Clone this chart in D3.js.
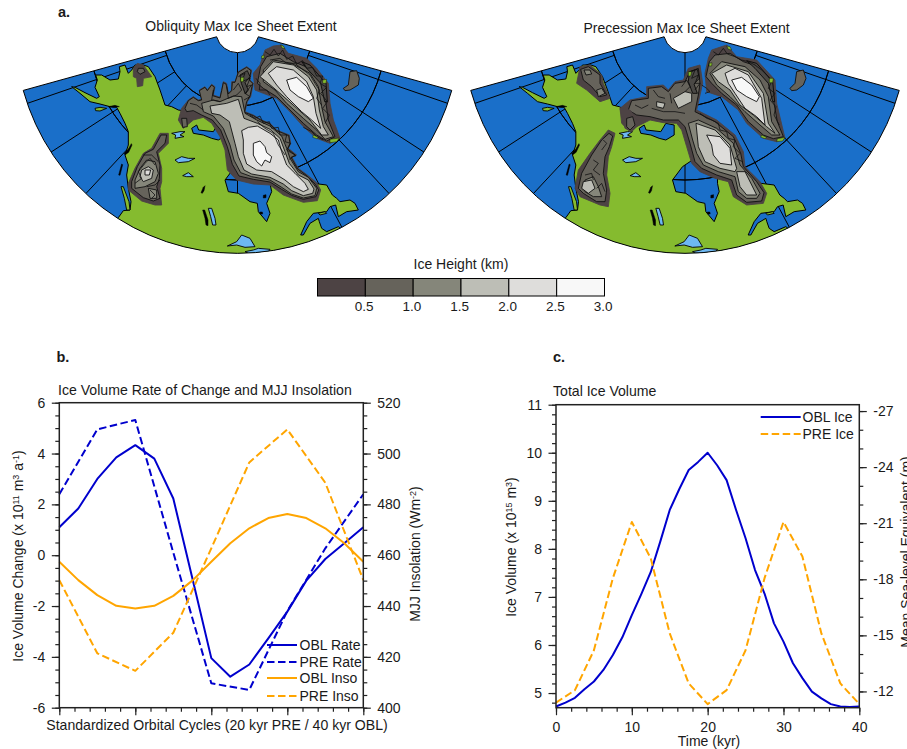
<!DOCTYPE html>
<html>
<head>
<meta charset="utf-8">
<script src="https://cdn.jsdelivr.net/npm/d3@7"></script>
<style>
  html, body { margin: 0; padding: 0; background: #fff; overflow: hidden; }
  svg { display: block; }
  text { font-family: "Liberation Sans", Arial, sans-serif; fill: #1a1a1a; }
</style>
</head>
<body>
<svg id="fig" width="907" height="749"></svg>
<script>
// ---------------------------------------------------------------------------
// line chart data
// ---------------------------------------------------------------------------
const cycleFine = d3.range(0, 40.1, 2.5);
const cycleCoarse = d3.range(0, 40.1, 5);
const oblRate = [1.1, 1.84, 3.0, 3.85, 4.33, 3.8, 2.23, -0.9, -4.05, -4.78, -4.3, -3.27, -2.22, -1.0, -0.15, 0.47, 1.1];
const preRate = [2.4, 4.95, 5.32, 0.1, -5.04, -5.3, -2.2, 0.27, 2.4];
const oblInso = [457.4, 450.2, 444.3, 440.1, 439, 440.1, 444, 450, 457.4, 464.7, 470.6, 474.6, 476.2, 474.6, 470.6, 464.7, 457.4];
const preInso = [450.2, 421.4, 414.5, 429.5, 462.7, 496.5, 509.5, 488.5, 450.2];
const oblIceTime = d3.range(0, 40.1, 1.25);
const preIceTime = d3.range(0, 40.1, 2.5);
const oblIce = [4.72, 4.8, 4.9, 5.08, 5.24, 5.48, 5.79, 6.16, 6.62, 7.06, 7.52, 8.15, 8.81, 9.24, 9.64, 9.81, 10.0, 9.74, 9.43, 8.81, 8.22, 7.56, 7.07, 6.45, 6.07, 5.62, 5.31, 5.03, 4.89, 4.77, 4.72, 4.71, 4.72];
const preIce = [4.8, 5.06, 5.89, 7.39, 8.56, 7.8, 6.24, 5.2, 4.77, 5.06, 5.89, 7.39, 8.56, 7.84, 6.24, 5.2, 4.77];

const iceLevels = [0.5, 1.0, 1.5, 2.0, 2.5];
const iceColors = ['#4d4344', '#66635b', '#85867a', '#bdbeb6', '#dedddb', '#f8f8f8'];
const barTicks = [0.5, 1.0, 1.5, 2.0, 2.5, 3.0];

// ---------------------------------------------------------------------------
// map outlines, traced in map units (1 unit = 1/3 px) from crops of the figure
// ---------------------------------------------------------------------------
const traced = (dx, dy, pts) => pts.map(p => [p[0] + dx, p[1] + dy]);

const meridianAngles = [-71, -57, -43, -28, 28, 43, 57, 71];
const parallelRadii = [225, 447];

const landCoast = [[355,653],[370,632],[390,630],[393,605],[385,565],[380,525],[385,495],[375,465],[385,435],[385,395],[375,370],[360,340],[350,322],[330,320],[300,312],[270,305],[240,280],[215,260],[225,262],[255,278],[290,295],[298,290],[285,262],[292,240],[287,225],[305,225],[330,240],[355,237],[360,215],[358,200],[375,195],[385,220],[395,210],[405,195],[430,195],[445,200],[465,230],[480,270],[495,315],[515,320],[535,330],[640,345],[740,350],[735,480],[705,500],[675,540],[685,575],[715,580],[750,605],[772,610],[775,635],[800,665],[810,640],[800,610],[815,575],[810,550],[810,535],[860,530],[900,530],[940,550],[980,555],[997,585],[1010,595],[1020,605],[1050,600],[1065,610],[1075,630],[1040,635],[1015,650],[1007,615],[990,620],[980,635],[940,640],[920,665],[902,705],[910,705],[930,670],[955,655],[958,665],[965,685],[980,695],[1015,680],[1040,700],[1040,800],[300,800],[300,700]];
const arcticBay = [[575,385],[590,375],[596,390],[640,395],[655,370],[680,375],[680,405],[655,420],[635,415],[610,405],[580,400]];
const islands = [
  traced(180, 165, [[183,395],[190,395],[207,440],[210,465],[200,465],[193,430]]),
  [[285,325],[300,322],[320,325],[300,333],[287,332]],
  traced(510, 510, [[445,130],[465,125],[470,130],[450,135]])
];
const blackSlivers = [
  traced(180, 165, [[192,296],[205,282],[214,266],[216,270],[206,292],[196,299]]),
  traced(180, 165, [[176,360],[185,327],[188,329],[180,361]]),
  traced(510, 510, [[98,120],[104,120],[114,150],[114,167],[108,165],[105,145]]),
  traced(510, 510, [[93,68],[100,52],[105,47],[102,62],[97,70]]),
  traced(180, 165, [[145,155],[165,151],[178,155],[160,157]]),
  traced(510, 510, [[280,76],[288,74],[288,83],[280,84]]),
  traced(510, 510, [[269,126],[277,126],[278,132],[270,132]])
];
const lakes = [
  [[515,400],[540,395],[555,395],[540,405],[552,410],[525,415],[527,405]],
  [[525,480],[545,470],[565,475],[585,475],[565,485],[535,488]],
  [[548,527],[565,518],[580,530],[560,530]],
  traced(510, 510, [[115,115],[125,115],[135,145],[138,165],[128,165],[122,140]]),
  traced(510, 510, [[172,228],[200,215],[215,195],[240,205],[255,230],[225,232],[200,225]]),
  traced(510, 510, [[225,245],[250,240],[265,235],[300,238],[295,245],[260,250],[235,250]])
];

// ice: [height, outline] painted in order
const oblIceBands = [
  [0.25, traced(510, 120, [[25,240],[40,265],[70,240],[100,232],[125,250],[150,290],[165,330],[172,390],[200,420],[250,432],[300,435],[340,465],[400,487],[442,482],[452,450],[440,428],[412,405],[385,385],[365,350],[380,345],[355,325],[362,310],[358,285],[340,278],[320,270],[300,250],[275,240],[250,225],[225,215],[232,185],[242,170],[250,130],[240,120],[245,90],[230,80],[205,95],[195,125],[185,125],[185,150],[175,160],[170,130],[160,125],[155,150],[150,172],[130,165],[135,140],[125,133],[112,150],[105,140],[88,150],[95,178],[85,180],[70,170],[55,180],[35,205]])],
  [0.75, traced(510, 120, [[45,205],[55,182],[70,172],[85,182],[95,180],[88,152],[105,142],[112,152],[125,135],[133,142],[128,167],[150,174],[155,152],[160,128],[168,132],[175,162],[185,152],[187,127],[195,127],[205,97],[230,82],[243,92],[238,120],[248,130],[240,168],[230,185],[223,217],[250,227],[275,242],[300,252],[320,272],[340,280],[356,287],[360,310],[353,327],[378,347],[363,352],[383,387],[410,407],[435,432],[446,450],[438,470],[400,478],[365,466],[335,448],[300,426],[250,418],[207,408],[187,373],[172,320],[152,270],[127,240],[95,225],[70,212],[50,215]])],
  [1.25, traced(510, 120, [[95,190],[130,180],[150,185],[190,168],[215,170],[225,220],[260,240],[300,258],[335,288],[350,325],[360,355],[385,395],[415,412],[440,445],[435,467],[400,474],[365,462],[335,442],[300,420],[245,410],[212,398],[192,360],[180,315],[160,265],[130,228],[100,215]])],
  [1.75, traced(510, 120, [[120,198],[170,190],[205,178],[222,235],[262,250],[300,268],[330,295],[345,335],[358,370],[385,405],[415,420],[432,447],[428,460],[400,467],[365,452],[340,432],[300,412],[245,402],[222,390],[205,350],[195,310],[178,245],[150,225],[125,220]])],
  [2.25, traced(510, 120, [[215,272],[235,262],[262,258],[300,280],[325,300],[335,335],[350,375],[375,400],[405,430],[415,448],[400,455],[370,440],[345,420],[305,395],[260,390],[230,372],[220,340],[220,300]])],
  [2.75, traced(510, 120, [[250,310],[270,303],[285,320],[290,338],[305,350],[300,368],[285,360],[275,378],[260,365],[250,345]])],
  // Cordilleran
  [0.25, traced(180, 165, [[300,235],[325,235],[325,265],[295,295],[305,340],[305,380],[300,400],[305,450],[285,450],[245,438],[205,405],[205,385],[225,340],[250,295],[275,280]])],
  [0.75, traced(180, 165, [[303,240],[320,240],[315,265],[290,290],[300,330],[298,370],[290,395],[300,430],[280,438],[250,428],[215,400],[215,380],[232,335],[255,295],[280,283]])],
  [1.25, traced(180, 165, [[240,340],[260,315],[285,320],[295,355],[285,380],[255,395],[225,400],[225,375]])],
  [1.75, traced(180, 165, [[245,345],[265,335],[280,345],[275,370],[250,380],[240,365]])],
  [2.25, traced(180, 165, [[255,345],[272,345],[268,360],[255,360]])],
  [1.25, traced(180, 165, [[265,400],[290,405],[290,430],[270,430]])],
  // Alaska
  [0.25, traced(180, 165, [[220,40],[232,25],[250,30],[275,65],[250,70],[248,92],[232,95],[230,70],[220,65]])],
  [0.75, traced(180, 165, [[235,40],[250,40],[255,50],[240,58],[232,50]])],
  [0.75, [[545,355],[560,355],[562,380],[548,382]]],
  // Greenland
  [0.25, traced(510, 120, [[270,75],[285,30],[310,18],[335,15],[355,40],[410,55],[440,85],[475,130],[480,190],[490,240],[510,295],[480,310],[440,295],[400,260],[360,215],[320,175],[280,160],[255,150],[250,100]])],
  [0.75, traced(510, 120, [[272,80],[290,50],[330,40],[370,65],[420,85],[455,130],[468,190],[475,240],[495,290],[470,303],[440,285],[400,250],[355,205],[320,170],[280,145],[262,130]])],
  [1.25, traced(510, 120, [[280,90],[310,60],[365,70],[420,100],[445,140],[455,200],[465,245],[490,290],[465,298],[440,270],[400,235],[350,190],[315,150],[280,125]])],
  [1.75, traced(510, 120, [[270,110],[310,65],[370,75],[415,110],[440,150],[448,210],[460,260],[475,285],[455,285],[420,240],[375,200],[330,160],[295,130]])],
  [2.25, traced(510, 120, [[295,100],[320,80],[370,90],[410,125],[430,170],[438,220],[452,265],[425,240],[395,215],[350,170],[320,135]])],
  [2.75, traced(510, 120, [[350,120],[380,112],[410,140],[430,175],[415,185],[385,170],[360,150]])],
  // Iceland
  [0.75, [[1030,265],[1045,255],[1050,215],[1070,212],[1078,235],[1075,255],[1050,270],[1035,272]]]
];
const oblRims = [
  traced(510, 120, [[210,105],[232,92],[240,110],[225,128],[235,150],[226,162],[214,130]]),
  traced(510, 120, [[395,65],[420,75],[468,130],[472,185],[464,185],[452,130],[410,85]])
];
const oblTangles = [
  traced(510, 120, [[285,35],[300,45],[312,28],[325,48],[338,30],[350,58],[368,48],[380,72],[398,62],[410,85],[428,82],[440,108],[458,108],[450,130],[470,142],[452,160],[472,185],[458,205],[478,225],[465,250]]),
  traced(510, 120, [[300,60],[330,55],[350,70],[375,70],[400,90],[420,105],[435,130],[448,150],[440,175],[455,195]]),
  traced(510, 120, [[205,110],[225,100],[215,125],[240,115],[230,140],[245,135],[225,160],[240,170],[222,180]]),
  traced(510, 120, [[190,150],[205,130],[215,150],[200,165]]),
  traced(510, 120, [[240,225],[255,235],[270,228],[280,250],[298,245],[305,265],[325,262],[330,285],[350,285],[345,305],[362,310],[350,330],[375,345],[358,358]]),
  traced(510, 120, [[262,245],[285,265],[310,280],[325,315],[345,345]]),
  traced(510, 120, [[60,190],[80,195],[100,210]]),
  traced(510, 120, [[130,150],[125,180],[150,185]]),
  traced(510, 120, [[170,140],[175,175],[200,165]]),
  traced(510, 120, [[258,115],[270,130],[268,150],[290,150],[300,165]]),
  traced(510, 120, [[400,262],[425,275],[440,290],[460,300]]),
  traced(180, 165, [[225,385],[245,370],[235,350],[255,325],[270,310],[285,330]]),
  traced(180, 165, [[250,300],[275,300],[295,320]]),
  traced(180, 165, [[260,395],[285,390],[300,375]]),
  traced(180, 165, [[270,405],[285,420],[275,430]])
];

const preIceBands = [
  [0.25, traced(510, 120, [[0,205],[30,180],[80,170],[80,140],[130,135],[145,150],[165,125],[190,120],[205,85],[240,75],[248,130],[240,165],[230,210],[290,240],[345,285],[370,335],[375,380],[420,425],[440,460],[430,490],[380,495],[340,470],[325,425],[285,415],[240,395],[215,370],[200,320],[185,270],[170,250],[130,248],[90,240],[50,260],[30,275],[5,250]])],
  [0.75, traced(510, 120, [[25,210],[35,182],[85,175],[85,145],[125,140],[145,155],[165,130],[195,125],[210,95],[235,85],[240,130],[235,165],[225,215],[285,245],[340,290],[362,340],[370,380],[410,425],[432,458],[425,483],[380,487],[350,465],[335,420],[290,405],[245,385],[225,365],[210,310],[195,260],[175,240],[130,240],[90,230],[50,225]])],
  [1.25, traced(510, 120, [[205,250],[235,240],[290,265],[340,310],[360,375],[395,415],[420,460],[410,475],[380,475],[355,455],[345,410],[295,395],[250,375],[230,340],[218,300]])],
  [1.75, traced(510, 120, [[228,250],[285,270],[330,315],[350,385],[345,395],[300,385],[255,365],[235,320]])],
  [1.75, traced(510, 120, [[350,395],[375,395],[410,465],[380,465],[360,440]])],
  [2.25, traced(510, 120, [[260,285],[300,290],[330,325],[335,375],[300,370],[280,345],[275,315]])],
  [1.75, traced(510, 120, [[160,175],[195,155],[215,160],[215,185],[175,205]])],
  [1.75, traced(510, 120, [[110,185],[135,190],[130,205],[110,200]])],
  [0.25, traced(330, 180, [[145,210],[165,220],[155,260],[145,290],[140,345],[150,400],[145,440],[120,435],[60,410],[45,385],[55,330],[90,280],[120,240]])],
  [0.75, traced(330, 180, [[147,220],[158,228],[148,260],[135,290],[130,340],[140,390],[135,425],[110,425],[70,400],[55,385],[65,340],[95,285],[125,240]])],
  [1.25, traced(330, 180, [[75,360],[100,350],[115,380],[125,410],[100,410],[75,395]])],
  [1.75, traced(330, 180, [[70,365],[95,360],[105,385],[85,400],[65,385]])],
  [0.25, traced(330, 180, [[60,20],[90,15],[125,45],[130,70],[150,115],[120,125],[80,90],[50,70]])],
  [0.75, traced(330, 180, [[62,28],[85,20],[120,45],[120,70],[140,105],[120,110],[95,80],[70,60]])],
  [1.25, traced(330, 180, [[72,30],[90,30],[95,42],[78,45]])],
  [1.25, traced(330, 180, [[110,90],[125,85],[135,100],[115,110]])],
  [0.25, traced(330, 180, [[180,145],[210,150],[225,170],[240,190],[215,215],[195,205]])],
  [0.75, traced(330, 180, [[200,175],[218,170],[225,195],[210,210],[200,200]])],
  [0.25, traced(510, 120, [[265,55],[275,30],[320,15],[350,50],[410,60],[465,120],[470,190],[495,295],[470,305],[430,295],[380,250],[355,210],[305,170],[260,155],[255,100]])],
  [0.75, traced(510, 120, [[268,65],[285,45],[330,40],[370,65],[415,80],[455,130],[462,190],[472,245],[490,290],[460,296],[430,285],[385,245],[350,195],[305,160],[275,130],[258,110]])],
  [1.25, traced(510, 120, [[270,100],[305,65],[375,80],[420,120],[445,170],[455,245],[480,285],[455,285],[420,255],[375,215],[330,170],[290,135]])],
  [1.75, traced(510, 120, [[275,100],[320,75],[385,95],[430,160],[445,250],[465,280],[440,260],[400,225],[360,195],[330,150],[295,125]])],
  [2.25, traced(510, 120, [[315,100],[345,85],[385,105],[425,175],[435,255],[410,230],[375,205],[345,160],[325,130]])],
  [2.75, traced(510, 120, [[335,120],[365,112],[395,135],[418,170],[410,185],[380,170],[350,150]])],
  [0.75, [[1020,265],[1035,250],[1040,215],[1060,210],[1068,235],[1060,255],[1040,270],[1025,272]]]
];
const preRims = [
  traced(510, 120, [[208,95],[232,88],[238,115],[222,132],[232,160],[218,160],[205,125]]),
  traced(510, 120, [[380,62],[410,70],[458,125],[464,185],[458,185],[445,130],[405,85]])
];
const preTangles = [
  traced(510, 120, [[280,35],[295,45],[310,25],[322,42],[345,50],[365,60],[385,65],[405,75],[425,90],[445,110],[455,125],[445,145],[465,160],[450,180],[468,200],[462,225],[478,255]]),
  traced(510, 120, [[205,100],[225,90],[215,115],[235,105],[225,130],[240,130],[225,150]]),
  traced(510, 120, [[185,140],[200,120],[210,140],[195,155]]),
  traced(510, 120, [[240,220],[260,235],[275,240],[295,250],[300,270],[320,275],[325,295],[345,300],[340,320],[360,340],[345,355],[368,365]]),
  traced(510, 120, [[45,195],[65,205],[85,195]]),
  traced(510, 120, [[100,150],[115,170],[135,175]]),
  traced(510, 120, [[150,160],[155,190]]),
  traced(510, 120, [[95,205],[130,215],[165,215],[195,220]]),
  traced(510, 120, [[245,135],[260,145],[270,155],[255,160]]),
  traced(330, 180, [[100,300],[115,310],[100,330],[120,345]]),
  traced(330, 180, [[75,345],[95,340],[100,360]]),
  traced(330, 180, [[110,385],[125,370],[135,395]]),
  traced(330, 180, [[130,240],[140,250],[125,270]])
];
const oblGreen = [
  traced(510, 120, [[480,298],[508,294],[500,305],[480,308]]),
  traced(510, 120, [[430,285],[445,292],[440,296],[428,292]]),
  traced(510, 120, [[458,120],[470,118],[468,130],[458,130]]),
  traced(510, 120, [[212,112],[222,112],[220,125],[212,125]]),
  traced(510, 120, [[275,48],[283,45],[282,55],[274,55]]),
  traced(510, 120, [[332,15],[340,18],[345,26],[336,24]])
];
const preGreen = [
  traced(510, 120, [[472,296],[495,292],[488,303],[470,305]]),
  traced(510, 120, [[425,285],[440,292],[435,296],[422,292]]),
  traced(510, 120, [[448,115],[460,115],[458,128],[448,128]]),
  traced(510, 120, [[205,95],[215,95],[212,108],[205,108]]),
  traced(510, 120, [[268,70],[276,68],[275,78],[267,78]]),
  traced(510, 120, [[320,18],[330,20],[335,30],[325,28]])
];

// ---------------------------------------------------------------------------
// drawing
// ---------------------------------------------------------------------------
const svg = d3.select('#fig');
const iceColor = d3.scaleThreshold().domain(iceLevels).range(iceColors);
const OCEAN = '#1a6fc9', LAND = '#85bb2f', LAKE = '#6db8f2';
const BLUE = '#0000cd', ORANGE = '#ffa500';
const degToRad = d3.scaleLinear().domain([0, 180]).range([0, Math.PI]);

function drawMap(id, title, titleX, titleY, landLeft, iceLeft, poleX, bands, rims, tangles, greens) {
  const unit = d3.scaleLinear().domain([0, 1350]).range([0, 450]);
  const xLand = v => landLeft + unit(v);
  const xIce = v => iceLeft + unit(v);
  const y = unit;
  const shape = xf => d3.line().x(d => xf(d[0])).y(d => y(d[1])).curve(d3.curveLinearClosed);
  const openShape = xf => d3.line().x(d => xf(d[0])).y(d => y(d[1]));
  const poleY = 31;
  const a = degToRad(74.5);
  const rOuter = unit(667), rInner = unit(65);

  svg.append('text').attr('x', titleX).attr('y', titleY).attr('text-anchor', 'middle')
    .style('font-size', '14px').text(title);

  const wedge = d3.arc().innerRadius(rInner).outerRadius(rOuter).startAngle(-a).endAngle(a);
  // d3.arc angle 0 is up, the map opens downward
  const pole = `translate(${poleX},${poleY}) rotate(180)`;
  svg.append('clipPath').attr('id', id).append('path').attr('d', wedge()).attr('transform', pole);

  svg.append('path').attr('d', wedge()).attr('transform', pole).attr('fill', OCEAN);

  // graticule sits under the land
  const grid = svg.append('g').attr('clip-path', `url(#${id})`)
    .attr('fill', 'none').attr('stroke', '#000').attr('stroke-width', 1);
  const ray = d3.lineRadial().angle(d => d[0]).radius(d => d[1]);
  meridianAngles.forEach(m => {
    grid.append('path')
      .attr('transform', `translate(${poleX},${poleY})`)
      .attr('d', ray([[Math.PI + degToRad(m), unit(parallelRadii[0])], [Math.PI + degToRad(m), rOuter]]));
  });
  grid.append('path').attr('transform', `translate(${poleX},${poleY})`)
    .attr('d', ray([[Math.PI, rInner], [Math.PI, rOuter]]));
  parallelRadii.forEach(r => {
    grid.append('path').attr('transform', pole)
      .attr('d', d3.arc().innerRadius(unit(r)).outerRadius(unit(r)).startAngle(-a).endAngle(a)());
  });

  const clipped = svg.append('g').attr('clip-path', `url(#${id})`);
  clipped.append('path').attr('d', shape(xLand)(landCoast))
    .attr('fill', LAND).attr('stroke', '#000').attr('stroke-width', 1).attr('stroke-linejoin', 'round');
  clipped.append('path').attr('d', shape(xLand)(arcticBay))
    .attr('fill', OCEAN).attr('stroke', '#000').attr('stroke-width', 1);
  clipped.selectAll('path.island').data(islands).join('path').attr('class', 'island')
    .attr('d', shape(xLand)).attr('fill', LAND).attr('stroke', '#000').attr('stroke-width', 0.9);
  clipped.selectAll('path.sliver').data(blackSlivers).join('path').attr('class', 'sliver')
    .attr('d', shape(xLand)).attr('fill', '#000').attr('stroke', '#000').attr('stroke-width', 0.5);
  clipped.selectAll('path.lake').data(lakes).join('path').attr('class', 'lake')
    .attr('d', shape(xLand)).attr('fill', LAKE).attr('stroke', '#000').attr('stroke-width', 0.9);

  clipped.selectAll('path.ice').data(bands).join('path').attr('class', 'ice')
    .attr('d', d => shape(xIce)(d[1]))
    .attr('fill', d => iceColor(d[0]))
    .attr('stroke', d => d[0] < 0.5 ? iceColor(d[0]) : '#111')
    .attr('stroke-width', 0.9).attr('stroke-linejoin', 'round');
  clipped.selectAll('path.rim').data(rims).join('path').attr('class', 'rim')
    .attr('d', shape(xIce)).attr('fill', '#4a4845').attr('stroke', '#000').attr('stroke-width', 0.8);
  clipped.selectAll('path.tangle').data(tangles).join('path').attr('class', 'tangle')
    .attr('d', openShape(xIce)).attr('fill', 'none').attr('stroke', '#111').attr('stroke-width', 0.8);
  clipped.selectAll('path.bare').data(greens).join('path').attr('class', 'bare')
    .attr('d', shape(xIce)).attr('fill', LAND).attr('stroke', '#000').attr('stroke-width', 0.4);

  svg.append('path').attr('d', wedge()).attr('transform', pole)
    .attr('fill', 'none').attr('stroke', '#000').attr('stroke-width', 1);
}

drawMap('wedge-obl', 'Obliquity Max Ice Sheet Extent', 241, 31, 0, 0, 237.5, oblIceBands, oblRims, oblTangles, oblGreen);
drawMap('wedge-pre', 'Precession Max Ice Sheet Extent', 686.5, 33, 447.5, 450, 685, preIceBands, preRims, preTangles, preGreen);

svg.append('text').attr('x', 58).attr('y', 17).style('font-size', '14.5px').style('font-weight', 'bold').text('a.');
svg.append('text').attr('x', 56.5).attr('y', 361.5).style('font-size', '14.5px').style('font-weight', 'bold').text('b.');
svg.append('text').attr('x', 553).attr('y', 362).style('font-size', '14.5px').style('font-weight', 'bold').text('c.');

// colour bar
const barX = d3.scaleLinear().domain([0, 3]).range([317.5, 604.5]);
const barEdges = [0].concat(barTicks);
svg.selectAll('rect.bar').data(barTicks).join('rect').attr('class', 'bar')
  .attr('x', (d, i) => barX(barEdges[i]))
  .attr('width', d => barX(d) - barX(d - 0.5))
  .attr('y', 278.5).attr('height', 17.5)
  .attr('fill', (d, i) => iceColors[i])
  .attr('stroke', '#000').attr('stroke-width', 1);
svg.selectAll('text.barlab').data(barTicks).join('text').attr('class', 'barlab')
  .attr('x', d => barX(d) - 1.3).attr('y', 311).attr('text-anchor', 'middle')
  .style('font-size', '13.5px').text(d => d.toFixed(1));
svg.append('text').attr('x', 461).attr('y', 269).attr('text-anchor', 'middle')
  .style('font-size', '14px').text('Ice Height (km)');

// axes helper: major + minor ticks, no domain line, the frame is drawn apart
function ticks(g, axis, major, minor, labels) {
  g.call(axis.tickValues(minor).tickSize(4).tickFormat(''));
  g.select('.domain').remove();
  const maj = g.append('g');
  maj.call(axis.tickValues(major).tickSize(7.5).tickPadding(6.5).tickFormat(labels));
  maj.select('.domain').remove();
  g.selectAll('line').attr('stroke', '#222').attr('stroke-width', 1.2);
  g.selectAll('text').style('font-size', '14px').style('font-family', '"Liberation Sans", Arial, sans-serif');
}
const plainLine = (x, xs, y) => d3.line().x((d, i) => x(xs[i])).y(d => y(d));
const plainNumber = d => String(d);

function seriesPath(g, values, line, color, dashed) {
  g.append('path').datum(values).attr('d', line).attr('fill', 'none')
    .attr('stroke', color).attr('stroke-width', 2).attr('stroke-linejoin', 'round')
    .attr('stroke-dasharray', dashed ? '7.5 3.5' : null);
}

function legend(entries, x0, x1, textX, fontSize) {
  entries.forEach(e => {
    svg.append('line').attr('x1', x0).attr('x2', x1).attr('y1', e.y).attr('y2', e.y)
      .attr('stroke', e.color).attr('stroke-width', 2)
      .attr('stroke-dasharray', e.dashed ? '7.5 3.5' : null);
    svg.append('text').attr('x', textX).attr('y', e.y + 5).style('font-size', fontSize).text(e.label);
  });
}

function superLabel(x, y, parts, size) {
  const t = svg.append('text').attr('transform', `translate(${x},${y}) rotate(-90)`)
    .attr('text-anchor', 'middle').style('font-size', size);
  parts.forEach(p => {
    const s = t.append('tspan').text(p[0]);
    if (p[1] === 'up') s.attr('dy', -4).style('font-size', '9px');
    if (p[1] === 'down') s.attr('dy', 4);
  });
}

// panel b
const bx = d3.scaleLinear().domain([0, 40]).range([59.3, 363.3]);
const by = d3.scaleLinear().domain([-6, 6]).range([707.7, 402.7]);
const byR = d3.scaleLinear().domain([400, 520]).range([707.7, 402.7]);
const bMajor = [-6, -4, -2, 0, 2, 4, 6];
const bMinor = d3.range(-6, 6.01, 0.5);
const bRightMajor = [400, 420, 440, 460, 480, 500, 520];
const bRightMinor = d3.range(400, 520.1, 5);
ticks(svg.append('g').attr('transform', 'translate(59.3,0)'), d3.axisLeft(by), bMajor, bMinor, plainNumber);
ticks(svg.append('g').attr('transform', 'translate(363.3,0)'), d3.axisRight(byR), bRightMajor, bRightMinor, plainNumber);
ticks(svg.append('g').attr('transform', 'translate(0,707.7)'), d3.axisBottom(bx), [0, 10, 20, 30, 40], d3.range(0, 40.1, 2), () => '');

const bPlot = svg.append('g');
seriesPath(bPlot, oblRate, plainLine(bx, cycleFine, by), BLUE, false);
seriesPath(bPlot, preRate, plainLine(bx, cycleCoarse, by), BLUE, true);
seriesPath(bPlot, oblInso, plainLine(bx, cycleFine, byR), ORANGE, false);
seriesPath(bPlot, preInso, plainLine(bx, cycleCoarse, byR), ORANGE, true);
svg.append('rect').attr('x', 59.3).attr('y', 402.7).attr('width', 304).attr('height', 305)
  .attr('fill', 'none').attr('stroke', '#222').attr('stroke-width', 1.5);

legend([
  { y: 645, color: BLUE, label: 'OBL Rate' },
  { y: 662, color: BLUE, dashed: true, label: 'PRE Rate' },
  { y: 678, color: ORANGE, label: 'OBL Inso' },
  { y: 696, color: ORANGE, dashed: true, label: 'PRE Inso' }
], 267, 297, 299.5, '14px');

svg.append('text').attr('x', 58).attr('y', 395).style('font-size', '14.1px').text('Ice Volume Rate of Change and MJJ Insolation');
svg.append('text').attr('x', 217).attr('y', 730).attr('text-anchor', 'middle').style('font-size', '14.1px')
  .text('Standardized Orbital Cycles (20 kyr PRE / 40 kyr OBL)');
superLabel(23, 556, [['Ice Volume Change (x 10'], ['11', 'up'], [' m', 'down'], ['3', 'up'], [' a', 'down'], ['-1', 'up'], [')', 'down']], '14px');
superLabel(420, 554, [['MJJ Insolation (Wm'], ['-2', 'up'], [')', 'down']], '14px');

// panel c
const cx = d3.scaleLinear().domain([0, 40]).range([556, 859.3]);
const cy = d3.scaleLinear().domain([4.695, 11]).range([707.7, 404.7]);
const cyR = d3.scaleLinear().domain([-11.13, -27.34]).range([707.7, 404.7]);
const cMajor = [5, 6, 7, 8, 9, 10, 11];
const cMinor = d3.range(4.8, 11.01, 0.2);
const cRightMajor = [-12, -15, -18, -21, -24, -27];
const cRightMinor = d3.range(-27, -11.5, 1);
ticks(svg.append('g').attr('transform', 'translate(556,0)'), d3.axisLeft(cy), cMajor, cMinor, plainNumber);
ticks(svg.append('g').attr('transform', 'translate(859.3,0)'), d3.axisRight(cyR), cRightMajor, cRightMinor, plainNumber);
ticks(svg.append('g').attr('transform', 'translate(0,707.7)'), d3.axisBottom(cx), [0, 10, 20, 30, 40], d3.range(0, 40.1, 2), plainNumber);

const cPlot = svg.append('g');
seriesPath(cPlot, oblIce, plainLine(cx, oblIceTime, cy), BLUE, false);
seriesPath(cPlot, preIce, plainLine(cx, preIceTime, cy), ORANGE, true);
svg.append('rect').attr('x', 556).attr('y', 404.7).attr('width', 303.3).attr('height', 303)
  .attr('fill', 'none').attr('stroke', '#222').attr('stroke-width', 1.5);

legend([
  { y: 417, color: BLUE, label: 'OBL Ice' },
  { y: 434, color: ORANGE, dashed: true, label: 'PRE Ice' }
], 760.7, 800.7, 802.5, '14px');

svg.append('text').attr('x', 553).attr('y', 396).style('font-size', '14.1px').text('Total Ice Volume');
svg.append('text').attr('x', 709).attr('y', 746).attr('text-anchor', 'middle').style('font-size', '14px').text('Time (kyr)');
superLabel(516, 547, [['Ice Volume (x 10'], ['15', 'up'], [' m', 'down'], ['3', 'up'], [')', 'down']], '14px');
superLabel(911, 552, [['Mean Sea-level Equivalent (m)']], '14px');
</script>
</body>
</html>
